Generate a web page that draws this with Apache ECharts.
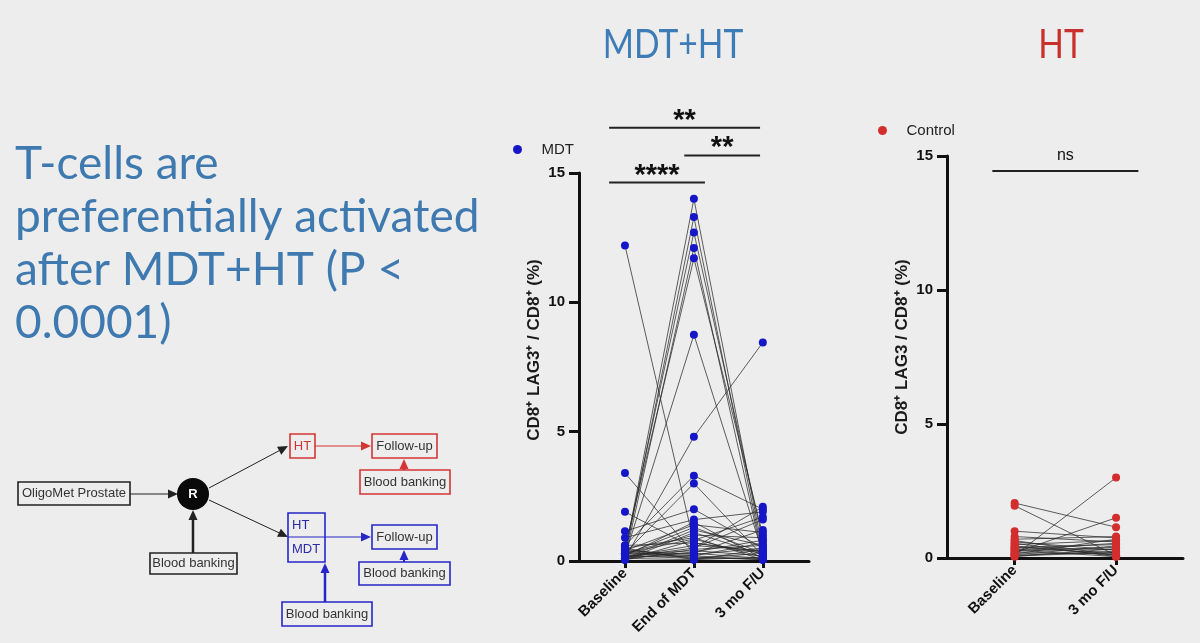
<!DOCTYPE html>
<html>
<head>
<meta charset="utf-8">
<title>CD8+ LAG3+ T cells: MDT+HT vs HT</title>
<script src="https://cdn.jsdelivr.net/npm/echarts@6/dist/echarts.min.js"></script>
<style>
html, body { margin: 0; padding: 0; background: #ededed; }
#main { width: 1200px; height: 643px; }
</style>
</head>
<body>
<div id="main"></div>
<script>
// MDT+HT arm, one entry per patient (CD8+ LAG3+ / CD8+, %)
var mdtBaseline = [0.3, 0.2, 0.4, 0.1, 0.5, 0.2, 0.1, 12.2, 3.4, 0.6, 0.3, 1.9, 1.15, 0.9, 0.2, 0.4, 0.1, 0.3, 0.5,
    0.05, 0.15, 0.25, 0.35, 0.45, 0.1, 0.2, 0.3, 0.05, 0.6, 0.15, 0.4, 0.1, 0.2, 0.05, 0.3, 0.5, 0.25, 0.15];
var mdtEnd = [14.0, 13.3, 12.7, 12.1, 11.7, 8.75, 4.8, 0.7, 0.3, 3.3, 3.0, 0.5, 2.0, 1.6, 1.5, 1.4, 1.2, 1.0, 0.9,
    0.8, 0.6, 0.4, 0.2, 0.1, 0.05, 0.3, 0.15, 1.1, 0.7, 0.5, 0.25, 0.35, 0.1, 0.45, 0.85, 0.05, 1.3, 0.2];
var mdtFollowUp = [0.4, 0.2, 0.8, 0.1, 1.0, 0.3, 8.45, 0.3, 0.1, 2.0, 0.2, 1.6, 0.5, 1.9, 0.1, 1.1, 0.6, 0.9, 0.05,
    1.7, 0.4, 0.2, 0.7, 0.3, 0.15, 1.2, 0.05, 0.25, 0.35, 2.1, 0.5, 0.8, 0.1, 0.6, 0.15, 0.45, 0.3, 0.05];

// HT (control) arm
var htBaseline = [2.05, 1.95, 0.1, 0.2, 1.0, 0.8, 0.7, 0.6, 0.5, 0.45, 0.4, 0.35, 0.3, 0.25, 0.2, 0.15, 0.1, 0.05,
    0.55, 0.3, 0.65, 0.12, 0.08, 0.4];
var htFollowUp = [1.15, 0.1, 3.0, 1.5, 0.75, 0.6, 0.8, 0.3, 0.65, 0.1, 0.5, 0.2, 0.05, 0.4, 0.15, 0.7, 0.25, 0.35,
    0.05, 0.55, 0.1, 0.45, 0.2, 0.3];

var mdtCategories = ['Baseline', 'End of MDT', '3 mo F/U'];
var htCategories = ['Baseline', '3 mo F/U'];

// significance brackets: [from, to, y, label]
var mdtSig = [[-0.23, 1.96, 16.75, '**'], [0.86, 1.96, 15.68, '**'], [-0.23, 1.16, 14.63, '****']];
var htSig = [[-0.22, 1.22, 14.44, 'ns']];

var headline = ['T-cells are', 'preferentially activated', 'after MDT+HT (P <', '0.0001)'];

var FONT = 'Liberation Sans';
var AXIS = '#111';

var chart = echarts.init(document.getElementById('main'));

function xAxisFor(grid, cats, max) {
    var ticks = cats.map(function (c, i) { return i; });
    return {
        gridIndex: grid, type: 'value', min: -0.667, max: max,
        splitLine: { show: false },
        axisLine: { onZero: false, lineStyle: { color: AXIS, width: 3 } },
        axisTick: { customValues: ticks, length: 7, lineStyle: { color: AXIS, width: 3 } },
        axisLabel: {
            customValues: ticks, rotate: 45, margin: 10,
            fontFamily: FONT, fontWeight: 'bold', fontSize: 15, color: AXIS,
            formatter: function (v) { return cats[Math.round(v)]; }
        }
    };
}

function yAxisFor(grid, name, lift) {
    return {
        gridIndex: grid, type: 'value', min: 0, max: 15, interval: 5,
        name: name, nameLocation: 'middle', nameGap: 36,
        nameTextStyle: { fontFamily: FONT, fontWeight: 'bold', fontSize: 17, color: '#1a1a1a', padding: [0, 0, 0, lift] },
        splitLine: { show: false },
        axisLine: { show: true, onZero: false, lineStyle: { color: AXIS, width: 3 } },
        axisTick: { show: true, length: 10, lineStyle: { color: AXIS, width: 3 } },
        axisLabel: { margin: 14, fontFamily: FONT, fontWeight: 'bold', fontSize: 15, color: AXIS }
    };
}

var series = [];
function addArm(grid, cols, name, color) {
    cols[0].forEach(function (v, i) {
        series.push({
            type: 'line', xAxisIndex: grid, yAxisIndex: grid, symbol: 'none', silent: true,
            emphasis: { disabled: true }, z: 2, animation: false,
            lineStyle: { color: '#2a2a2a', width: 0.75 },
            data: cols.map(function (col, k) { return [k, col[i]]; })
        });
    });
    cols.forEach(function (col, k) {
        series.push({
            name: name, type: 'scatter', xAxisIndex: grid, yAxisIndex: grid, z: 3,
            symbolSize: 8, itemStyle: { color: color, opacity: 1 },
            data: col.map(function (v) { return [k, v]; })
        });
    });
}
addArm(0, [mdtBaseline, mdtEnd, mdtFollowUp], 'MDT', '#1616c9');
addArm(1, [htBaseline, htFollowUp], 'Control', '#d42d2d');

var option = {
    backgroundColor: '#ededed',
    animation: false,
    grid: [
        { left: 579, top: 173, width: 230, height: 388 },
        { left: 947, top: 156, width: 236, height: 402 }
    ],
    xAxis: [xAxisFor(0, mdtCategories, 2.67), xAxisFor(1, htCategories, 1.66)],
    yAxis: [yAxisFor(0, 'CD8⁺ LAG3⁺ / CD8⁺ (%)', 34), yAxisFor(1, 'CD8⁺ LAG3 / CD8⁺ (%)', 20)],
    legend: [
        { data: ['MDT'], left: 508, top: 137, icon: 'circle', itemWidth: 38, itemHeight: 9, selectedMode: false,
          textStyle: { fontFamily: FONT, fontSize: 15, color: '#222' } },
        { data: ['Control'], left: 873, top: 118, icon: 'circle', itemWidth: 38, itemHeight: 9, selectedMode: false,
          textStyle: { fontFamily: FONT, fontSize: 15, color: '#222' } }
    ],
    series: series
};
chart.setOption(option);

// ---- graphics: titles, headline, brackets, study diagram ----
var g = [];

function txt(x, y, s, font, color, align, valign) {
    return { type: 'text', x: x, y: y, silent: true,
        style: { text: s, font: font, fill: color, align: align || 'center', verticalAlign: valign || 'middle',
                 textAlign: align || 'center', textVerticalAlign: valign || 'middle' } };
}

var t1 = txt(673, 45, 'MDT+HT', '41px Lato', '#3d7cb6'); t1.scaleX = 0.82; g.push(t1);
var t2 = txt(1061, 45, 'HT', '41px Lato', '#c9302c'); t2.scaleX = 0.82; g.push(t2);
headline.forEach(function (s, i) {
    g.push(txt(15, 164 + i * 53, s, '46px Lato', '#3e79b0', 'left'));
});

function brackets(grid, list, font, gap) {
    list.forEach(function (b) {
        var p1 = chart.convertToPixel({ gridIndex: grid }, [b[0], b[2]]);
        var p2 = chart.convertToPixel({ gridIndex: grid }, [b[1], b[2]]);
        g.push({ type: 'line', silent: true, shape: { x1: p1[0], y1: p1[1], x2: p2[0], y2: p2[1] },
                 style: { stroke: '#222', lineWidth: 2 } });
        g.push(txt((p1[0] + p2[0]) / 2, p1[1] - gap, b[3], font, '#111'));
    });
}
brackets(0, mdtSig, 'bold 29px "Liberation Sans"', 7);
brackets(1, htSig, '16px "Liberation Sans"', 15);

function arrow(x1, y1, x2, y2, color, w) {
    var a = Math.atan2(y2 - y1, x2 - x1), L = 10, H = 4.5;
    var bx = x2 - L * Math.cos(a), by = y2 - L * Math.sin(a);
    g.push({ type: 'line', silent: true, shape: { x1: x1, y1: y1, x2: bx, y2: by }, style: { stroke: color, lineWidth: w } });
    g.push({ type: 'polygon', silent: true,
             shape: { points: [[x2, y2], [bx + H * Math.sin(a), by - H * Math.cos(a)], [bx - H * Math.sin(a), by + H * Math.cos(a)]] },
             style: { fill: color } });
}
function box(x, y, w, h, color, label, textColor) {
    g.push({ type: 'rect', silent: true, shape: { x: x, y: y, width: w, height: h },
             style: { fill: 'none', stroke: color, lineWidth: 1.6 } });
    if (label) g.push(txt(x + w / 2, y + h / 2, label, '13px "Liberation Sans"', textColor || '#333'));
}

var RED = '#d33535', BLUE = '#2626c8', BLK = '#222';
box(18, 482, 112, 23, BLK, 'OligoMet Prostate');
arrow(130, 494, 178, 494, BLK, 1.2);
g.push({ type: 'circle', silent: true, shape: { cx: 193, cy: 494, r: 16 }, style: { fill: '#0a0a0a' } });
g.push(txt(193, 494, 'R', 'bold 13px "Liberation Sans"', '#fff'));
box(150, 553, 87, 21, BLK, 'Blood banking');
arrow(193, 553, 193, 510, BLK, 2.5);
arrow(209, 488, 288, 446, BLK, 1);
arrow(209, 500, 288, 537, BLK, 1);

box(290, 434, 25, 24, RED, 'HT', RED);
arrow(315, 446, 371, 446, RED, 1.2);
box(372, 434, 65, 24, RED, 'Follow-up');
box(360, 470, 90, 24, RED, 'Blood banking');
arrow(404, 470, 404, 459, RED, 2);

box(288, 513, 37, 49, BLUE);
g.push({ type: 'line', silent: true, shape: { x1: 288, y1: 537, x2: 325, y2: 537 }, style: { stroke: BLUE, lineWidth: 1.2 } });
g.push(txt(292, 525, 'HT', '13px "Liberation Sans"', '#2a2aa8', 'left'));
g.push(txt(292, 549, 'MDT', '13px "Liberation Sans"', '#2a2aa8', 'left'));
arrow(325, 537, 371, 537, BLUE, 1.2);
box(372, 525, 65, 24, BLUE, 'Follow-up');
box(359, 562, 91, 23, BLUE, 'Blood banking');
arrow(404, 562, 404, 550, BLUE, 2);
box(282, 602, 90, 24, BLUE, 'Blood banking');
arrow(325, 602, 325, 563, BLUE, 2.5);

chart.setOption({ graphic: { elements: g } });
</script>
</body>
</html>
